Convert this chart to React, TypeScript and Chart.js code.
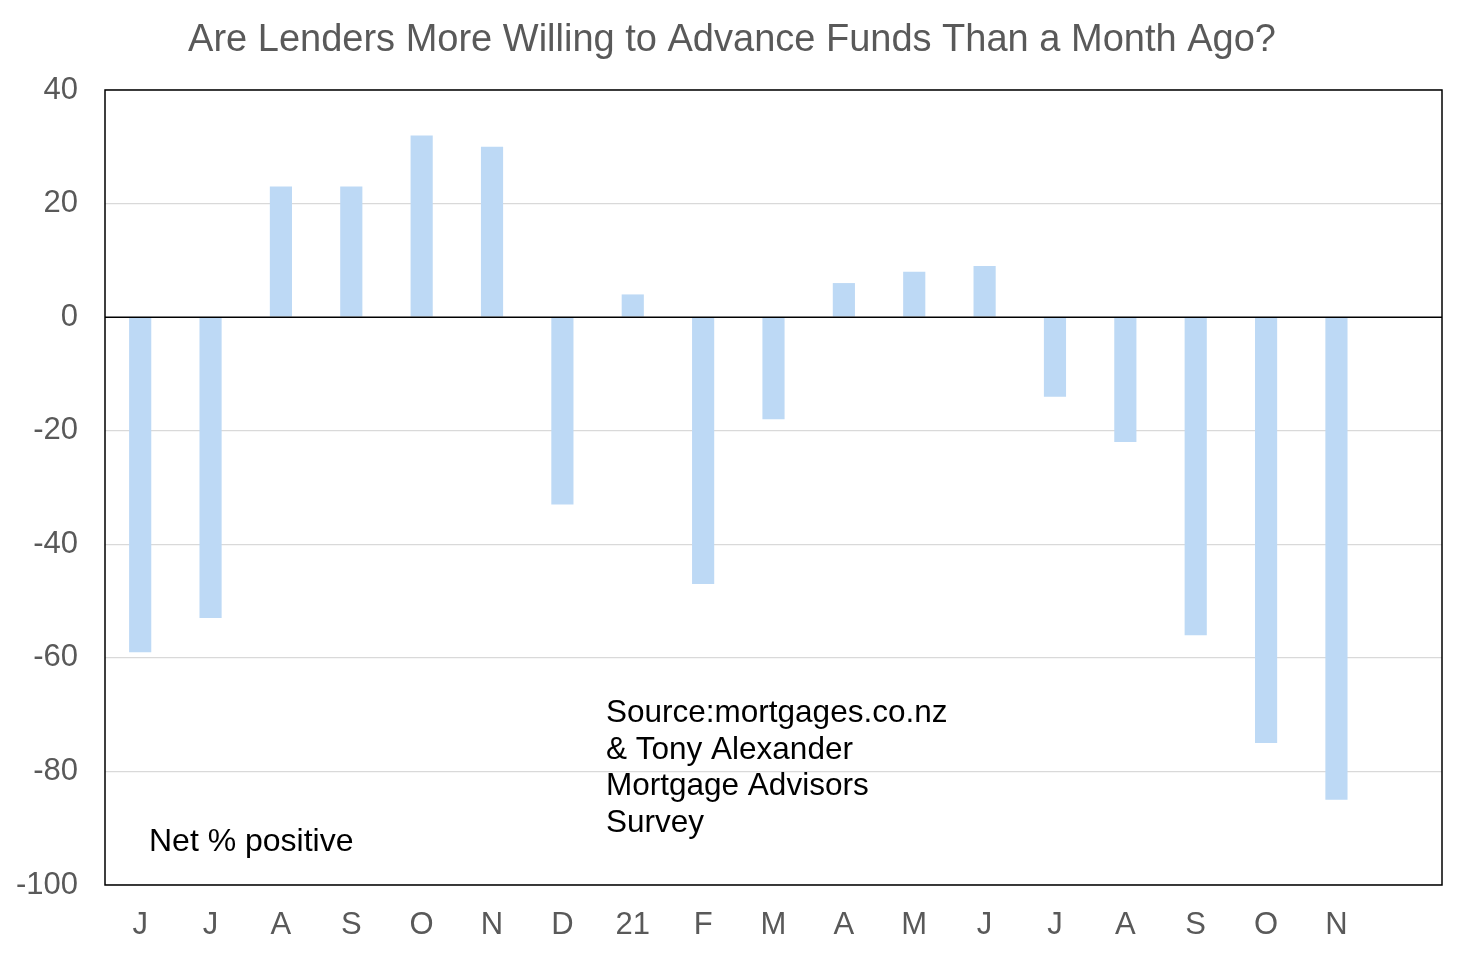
import React, { useEffect, useRef } from "react";
import { Chart, registerables } from "chart.js";

Chart.register(...registerables);

const monthLabels: string[] = ["J", "J", "A", "S", "O", "N", "D", "21", "F", "M", "A", "M", "J", "J", "A", "S", "O", "N", ""];
const netPositive: (number | null)[] = [-59, -53, 23, 23, 32, 30, -33, 4, -47, -18, 6, 8, 9, -14, -22, -56, -75, -85, null];
const yTicks: number[] = [-100, -80, -60, -40, -20, 0, 20, 40];
const titleText = "Are Lenders More Willing to Advance Funds Than a Month Ago?";
const noteText = "Net % positive";
const sourceLines: string[] = ["Source:mortgages.co.nz", "& Tony Alexander", "Mortgage Advisors", "Survey"];

const FONT = "'Liberation Sans', Arial, sans-serif";

const framePlugin = {
  id: "frameAndNotes",
  afterDatasetsDraw(chart: any) {
    const { ctx, chartArea, scales, width } = chart;
    const x = scales.x;
    const y = scales.y;
    ctx.save();
    // title, centred on the canvas
    ctx.fillStyle = "#595959";
    ctx.font = `38px ${FONT}`;
    ctx.textAlign = "center";
    ctx.textBaseline = "middle";
    ctx.fillText(titleText, width / 2, 41);
    // zero line
    ctx.strokeStyle = "#000";
    ctx.lineWidth = 1.5;
    const y0 = y.getPixelForValue(0);
    ctx.beginPath();
    ctx.moveTo(chartArea.left, y0);
    ctx.lineTo(chartArea.right, y0);
    ctx.stroke();
    // frame
    ctx.lineWidth = 1.5;
    ctx.strokeRect(chartArea.left, chartArea.top, chartArea.right - chartArea.left, chartArea.bottom - chartArea.top);
    // notes
    ctx.fillStyle = "#000";
    ctx.textBaseline = "middle";
    ctx.textAlign = "left";
    const step = x.getPixelForValue(1) - x.getPixelForValue(0);
    ctx.font = `32px ${FONT}`;
    const noteX = x.getPixelForValue(0) - step * 0.5 + step * 0.625;
    ctx.fillText(noteText, noteX, y.getPixelForValue(-92.4));
    ctx.font = `31.5px ${FONT}`;
    const srcX = x.getPixelForValue(6) + step * 0.62;
    const lineGap = y.getPixelForValue(0) - y.getPixelForValue(6.45);
    sourceLines.forEach((line, i) => {
      ctx.fillText(line, srcX, y.getPixelForValue(-69.8) + i * lineGap);
    });
    ctx.restore();
  },
};

export default function App() {
  const canvasRef = useRef<HTMLCanvasElement | null>(null);

  useEffect(() => {
    document.body.style.margin = "0";
    const canvas = canvasRef.current;
    if (!canvas) return;
    const chart = new Chart(canvas, {
      type: "bar",
      data: {
        labels: monthLabels,
        datasets: [
          {
            data: netPositive,
            backgroundColor: "#bdd9f5",
            borderWidth: 0,
            categoryPercentage: 1,
            barPercentage: 0.315,
          },
        ],
      },
      options: {
        animation: false,
        responsive: false,
        maintainAspectRatio: false,
        devicePixelRatio: 1,
        layout: { padding: { left: 0, right: 22, top: 90, bottom: 0 } },
        plugins: {
          legend: { display: false },
          tooltip: { enabled: false },
          title: { display: false },
        },
        scales: {
          x: {
            grid: { display: false, drawTicks: false },
            border: { display: false },
            ticks: {
              color: "#595959",
              font: { family: FONT, size: 31 },
              padding: 22,
              maxRotation: 0,
              autoSkip: false,
            },
            afterFit(scale: any) {
              scale.height = 69;
            },
          },
          y: {
            min: -100,
            max: 40,
            afterBuildTicks(scale: any) {
              scale.ticks = yTicks.map((v) => ({ value: v }));
            },
            grid: {
              color: (c: any) => (c.tick && c.tick.value === 0 ? "rgba(0,0,0,0)" : "#d9d9d9"),
              lineWidth: 1.2,
              drawTicks: false,
            },
            border: { display: false },
            ticks: {
              color: "#595959",
              font: { family: FONT, size: 31 },
              padding: 27,
            },
            afterFit(scale: any) {
              scale.width = 105;
            },
          },
        },
      },
      plugins: [framePlugin],
    });
    return () => chart.destroy();
  }, []);

  return (
    <div style={{ width: 1464, height: 954, background: "#fff" }}>
      <canvas ref={canvasRef} width={1464} height={954} style={{ display: "block" }} />
    </div>
  );
}
